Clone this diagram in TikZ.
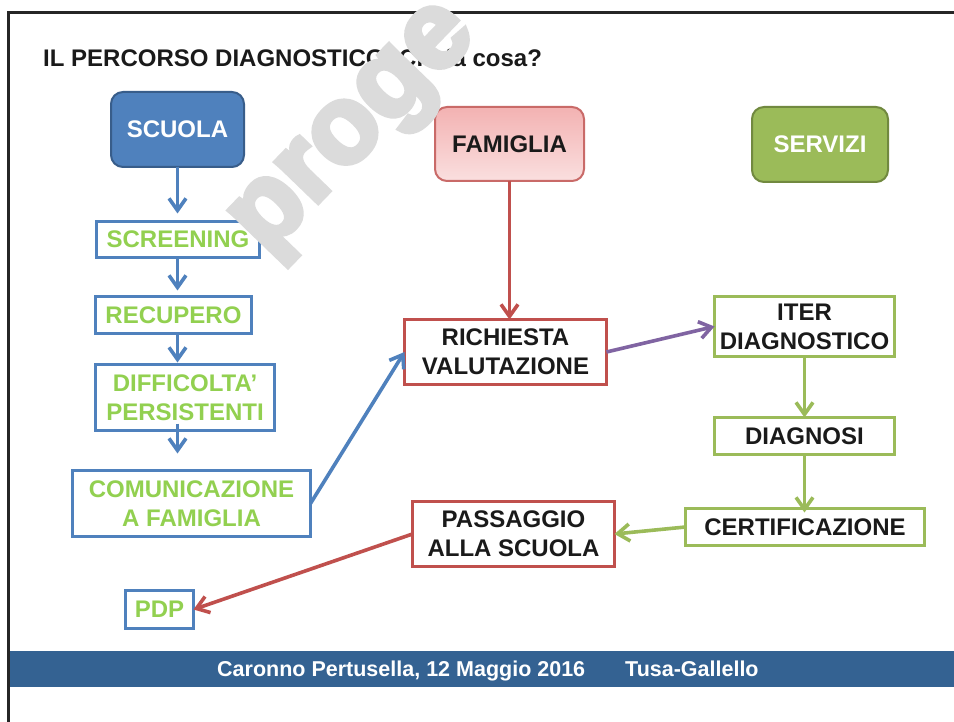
\documentclass[tikz,border=0pt]{standalone}
\usepackage{fontspec}
\setmainfont{Liberation Sans}
\newfontfamily\wmfont[FakeBold=5]{Liberation Sans Bold}
\usetikzlibrary{arrows.meta}
\definecolor{oblue}{HTML}{4F81BD}
\definecolor{oblued}{HTML}{385D8A}
\definecolor{ogreen}{HTML}{9BBB59}
\definecolor{ogreend}{HTML}{71893F}
\definecolor{lgreen}{HTML}{92D050}
\definecolor{ored}{HTML}{C0504D}
\definecolor{opurple}{HTML}{8064A2}
\definecolor{pinktop}{HTML}{F3B2B2}
\definecolor{pinkbot}{HTML}{FADFDF}
\definecolor{bandblue}{HTML}{346292}
\definecolor{framegray}{HTML}{262626}
\definecolor{txt}{HTML}{1A1A1A}
\definecolor{wmgray}{HTML}{DBDBDB}
\tikzset{
  big/.style={font=\fontsize{24}{29}\selectfont\bfseries, align=center, inner sep=0pt, outer sep=0pt},
  headbox/.style={big, rounded corners=12pt, line width=2pt},
  bluebox/.style={big, draw=oblue, line width=3pt, text=lgreen},
  redbox/.style={big, draw=ored, line width=3pt, text=txt},
  greenbox/.style={big, draw=ogreen, line width=3pt, text=txt},
  arr/.style={line width=3.6pt, -{Straight Barb[length=12pt,width=17pt]}},
  foot/.style={font=\fontsize{21.5}{26}\selectfont\bfseries, text=white, inner sep=0pt, anchor=base west},
}
\begin{document}
\begin{tikzpicture}[x=1pt,y=-1pt]
\useasboundingbox (0,0) rectangle (954,722);
\fill[white] (0,0) rectangle (954,722);
% frame
\draw[framegray, line width=2.7pt] (954,12.5) -- (8.5,12.5) -- (8.5,722);
% title
\node[font=\fontsize{24}{29}\selectfont\bfseries, text=txt, anchor=base west, inner sep=0pt] (title) at (43,67) {IL PERCORSO DIAGNOSTICO: Chi fa cosa?};
% header boxes
\node[headbox, fill=oblue, draw=oblued, text=white, minimum width=133pt, minimum height=75pt] (scuola) at (177.5,129.5) {SCUOLA};
\node[headbox, top color=pinktop, bottom color=pinkbot, draw=ored!85, text=txt, minimum width=149pt, minimum height=74pt] (famiglia) at (509.5,144) {FAMIGLIA};
\node[headbox, fill=ogreen, draw=ogreend, text=white, minimum width=136pt, minimum height=75pt] (servizi) at (820,144.5) {SERVIZI};
% school column
\node[bluebox, minimum width=163pt, minimum height=36pt] (screening) at (178,239.5) {SCREENING};
\node[bluebox, minimum width=156pt, minimum height=37pt] (recupero) at (173.5,315) {RECUPERO};
\node[bluebox, minimum width=179pt, minimum height=66pt] (diff) at (185,397.5) {DIFFICOLTA’\\PERSISTENTI};
\node[bluebox, minimum width=238pt, minimum height=66pt] (comun) at (191.5,503.5) {COMUNICAZIONE\\A FAMIGLIA};
\node[bluebox, minimum width=68pt, minimum height=38pt] (pdp) at (159.5,609.5) {PDP};
% family
\node[redbox, minimum width=202pt, minimum height=65pt] (rich) at (505.5,352) {RICHIESTA\\VALUTAZIONE};
\node[redbox, minimum width=202pt, minimum height=65pt] (pass) at (513.5,534) {PASSAGGIO\\ALLA SCUOLA};
% services
\node[greenbox, minimum width=180pt, minimum height=60pt] (iter) at (804.5,326.5) {ITER\\DIAGNOSTICO};
\node[greenbox, minimum width=180pt, minimum height=37pt] (diag) at (804.5,436) {DIAGNOSI};
\node[greenbox, minimum width=239pt, minimum height=37pt] (cert) at (805,527) {CERTIFICAZIONE};
% arrows
\draw[arr, oblue, shorten >=8pt] (scuola.south) -- (scuola.south |- screening.north);
\draw[arr, oblue, shorten >=6pt] (scuola.south |- screening.south) -- (scuola.south |- recupero.north);
\draw[arr, oblue, shorten >=2pt] (scuola.south |- recupero.south) -- (scuola.south |- diff.north);
\draw[arr, oblue, shorten <=-7pt, shorten >=17pt] (scuola.south |- diff.south) -- (scuola.south |- comun.north);
\draw[arr, oblue] (comun.east) -- (rich.west);
\draw[arr, ored] (famiglia.south) -- (famiglia.south |- rich.north);
\draw[arr, opurple] (rich.east) -- (iter.west);
\draw[arr, ogreen] (iter.south) -- (diag.north);
\draw[arr, ogreen, shorten >=-4pt] (diag.south) -- (diag.south |- cert.north);
\draw[arr, ogreen] (cert.west) -- (pass.east);
\draw[arr, ored] (pass.west) -- (pdp.east);
% footer
\fill[bandblue] (9.8,651) rectangle (954,687);
\node[foot] (place) at (217,676) {Caronno Pertusella, 12 Maggio 2016};
\node[foot] (authors) at (625,676) {Tusa-Gallello};
% watermark
\begin{scope}
\clip (9.8,0) rectangle (954,722);
\node[rotate=46, anchor=base west, text=wmgray, inner sep=0pt, font=\wmfont\fontsize{110}{110}\selectfont] (wm) at (266,256) {proge};
\end{scope}
\end{tikzpicture}
\end{document}
